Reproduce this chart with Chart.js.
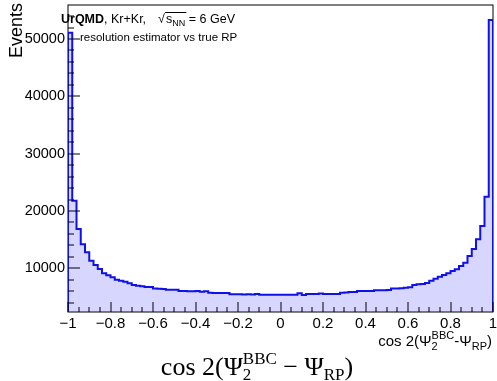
<!DOCTYPE html>
<html>
<head>
<meta charset="utf-8">
<script src="https://cdn.jsdelivr.net/npm/chart.js@4.4.1/dist/chart.umd.min.js"></script>
<style>
  html, body { margin: 0; padding: 0; background: #fff; }
  #wrap { position: relative; width: 497px; height: 381px; }
</style>
</head>
<body>
<div id="wrap"><canvas id="histo"></canvas></div>
<script>
// 100 bins of cos 2(Psi_2^BBC - Psi_RP), from -1 to 1
const binLow = -1;
const binWidth = 0.02;
const counts = [
  51100, 21800, 16850, 14190, 12790, 11330, 10575, 9880, 9130, 8780,
  8430, 8010, 7840, 7660, 7380, 7090, 6970, 6860, 6740, 6750,
  6500, 6450, 6400, 6280, 6260, 6250, 6060, 6040, 5980, 5990,
  6060, 5930, 5980, 5720, 5700, 5690, 5680, 5690, 5480, 5470,
  5460, 5450, 5460, 5440, 5530, 5410, 5400, 5390, 5400, 5400,
  5400, 5390, 5410, 5400, 5650, 5340, 5500, 5510, 5500, 5620,
  5500, 5520, 5510, 5530, 5740, 5760, 5860, 5870, 6030, 6040,
  6050, 6060, 6160, 6170, 6180, 6200, 6480, 6500, 6520, 6620,
  6690, 7090, 7210, 7260, 7440, 7840, 8190, 8540, 8830, 9130,
  9530, 9830, 10400, 10980, 12150, 13370, 15060, 17380, 22490, 53300
];
const xTicks = [-1, -0.8, -0.6, -0.4, -0.2, 0, 0.2, 0.4, 0.6, 0.8, 1];
const yTicks = [10000, 20000, 30000, 40000, 50000];
const yMin = 2380;
const yMax = 55930;

const SANS = "'Liberation Sans', Arial, sans-serif";
const SERIF = "'Liberation Serif', 'DejaVu Serif', serif";

// step outline: closed down to the axis minimum at both ends
const pts = [{ x: binLow, y: yMin }];
counts.forEach((c, i) => pts.push({ x: binLow + i * binWidth, y: c }));
pts.push({ x: binLow + counts.length * binWidth, y: counts[counts.length - 1] });
pts.push({ x: binLow + counts.length * binWidth, y: yMin });

function fmt(v) {
  if (v === 0) return '0';
  return (v < 0 ? '\u2212' : '') + Math.abs(v);
}

// text with sub/superscripts; a part with stack:true shares its x with the next part
function drawRich(ctx, parts, x, y, align) {
  let cx = 0, stackW = 0;
  const items = parts.map(p => {
    ctx.font = p.font;
    const w = ctx.measureText(p.t).width;
    const it = { ...p, x: cx };
    if (p.stack) stackW = w;
    else { cx += Math.max(w, stackW); stackW = 0; }
    return it;
  });
  const x0 = align === 'right' ? x - cx : align === 'center' ? x - cx / 2 : x;
  ctx.textAlign = 'left';
  ctx.textBaseline = 'alphabetic';
  items.forEach(it => {
    ctx.font = it.font;
    ctx.fillText(it.t, x0 + it.x, y + (it.dy || 0));
  });
  return x0 + cx;
}

const rootFrame = {
  id: 'rootFrame',
  beforeDatasetsDraw(chart) {
    const { ctx, chartArea: a } = chart;
    ctx.save();
    ctx.strokeStyle = '#000';
    ctx.lineWidth = 1;
    ctx.strokeRect(a.left, a.top, a.right - a.left, a.bottom - a.top);
    ctx.restore();
  },
  afterDatasetsDraw(chart) {
    const { ctx, chartArea: a, scales: { x, y } } = chart;
    ctx.save();
    ctx.strokeStyle = '#000';
    ctx.lineWidth = 1;
    ctx.beginPath();
    for (let k = 0; k <= 40; k++) {
      const px = Math.round(x.getPixelForValue(-1 + k * 0.05));
      const len = k % 4 === 0 ? 10 : 5;
      ctx.moveTo(px, a.bottom);
      ctx.lineTo(px, a.bottom - len);
    }
    for (let v = 4000; v < yMax; v += 2000) {
      const py = Math.round(y.getPixelForValue(v));
      const len = v % 10000 === 0 ? 12 : 6;
      ctx.moveTo(a.left, py);
      ctx.lineTo(a.left + len, py);
    }
    ctx.stroke();
    ctx.restore();
  },
  afterDraw(chart) {
    const { ctx, chartArea: a } = chart;
    ctx.save();
    ctx.fillStyle = '#000';

    // y title
    ctx.save();
    ctx.translate(22, 3);
    ctx.rotate(-Math.PI / 2);
    ctx.font = '18px ' + SANS;
    ctx.textAlign = 'right';
    ctx.textBaseline = 'alphabetic';
    ctx.fillText('Events', 0, 0);
    ctx.restore();

    // x title
    drawRich(ctx, [
      { t: 'cos 2(\u03A8', font: '15px ' + SANS },
      { t: 'BBC', font: '11px ' + SANS, dy: -7, stack: true },
      { t: '2', font: '11px ' + SANS, dy: 4 },
      { t: '-\u03A8', font: '15px ' + SANS },
      { t: 'RP', font: '11px ' + SANS, dy: 4 },
      { t: ')', font: '15px ' + SANS }
    ], a.right - 1, 346, 'right');

    // annotation
    const end = drawRich(ctx, [
      { t: 'UrQMD', font: 'bold 12.5px ' + SANS },
      { t: ', Kr+Kr,', font: '12.5px ' + SANS }
    ], 61, 23, 'left');
    const sx = end + 12;
    ctx.font = '12.5px ' + SANS;
    ctx.fillText('\u221A', sx, 23);
    const sEnd = drawRich(ctx, [
      { t: 's', font: '12.5px ' + SANS },
      { t: 'NN', font: '9px ' + SANS, dy: 3 }
    ], sx + 8, 23, 'left');
    ctx.fillRect(sx + 7, 12, sEnd - sx - 6, 1);
    drawRich(ctx, [{ t: ' = 6 GeV', font: '12.5px ' + SANS }], sEnd, 23, 'left');
    drawRich(ctx, [{ t: 'resolution estimator vs true RP', font: '11.5px ' + SANS }], 80, 41, 'left');

    // caption under the pad
    drawRich(ctx, [
      { t: 'cos 2(\u03A8', font: '26px ' + SERIF },
      { t: 'BBC', font: '17px ' + SERIF, dy: -11, stack: true },
      { t: '2', font: '17px ' + SERIF, dy: 5 },
      { t: ' \u2212 \u03A8', font: '26px ' + SERIF },
      { t: 'RP', font: '17px ' + SERIF, dy: 5 },
      { t: ')', font: '26px ' + SERIF }
    ], 257, 375, 'center');
    ctx.restore();
  }
};

new Chart(document.getElementById('histo'), {
  type: 'line',
  data: {
    datasets: [{
      data: pts,
      stepped: true,
      borderColor: '#1010e8',
      borderWidth: 2,
      backgroundColor: 'rgba(0, 0, 255, 0.16)',
      fill: 'start',
      pointRadius: 0,
      tension: 0
    }]
  },
  options: {
    responsive: true,
    maintainAspectRatio: false,
    animation: false,
    layout: { padding: { top: 5, right: 4, left: 0, bottom: 0 } },
    plugins: { legend: { display: false }, tooltip: { enabled: false } },
    scales: {
      x: {
        type: 'linear',
        min: -1,
        max: 1,
        afterBuildTicks: axis => { axis.ticks = xTicks.map(v => ({ value: v })); },
        afterFit: axis => {
          axis.height = 69;
          axis.paddingLeft = 0;
          axis.paddingRight = 0;
        },
        grid: { display: false, drawTicks: false },
        border: { display: false },
        ticks: {
          callback: v => fmt(v),
          autoSkip: false,
          maxRotation: 0,
          padding: 3,
          color: '#000',
          font: { family: SANS, size: 15 }
        }
      },
      y: {
        type: 'linear',
        min: yMin,
        max: yMax,
        afterBuildTicks: axis => { axis.ticks = yTicks.map(v => ({ value: v })); },
        afterFit: axis => {
          axis.width = 68;
          axis.paddingTop = 0;
          axis.paddingBottom = 0;
        },
        grid: { display: false, drawTicks: false },
        border: { display: false },
        ticks: {
          callback: v => String(v),
          autoSkip: false,
          padding: 3,
          color: '#000',
          font: { family: SANS, size: 14.5 }
        }
      }
    }
  },
  plugins: [rootFrame]
});
</script>
</body>
</html>
